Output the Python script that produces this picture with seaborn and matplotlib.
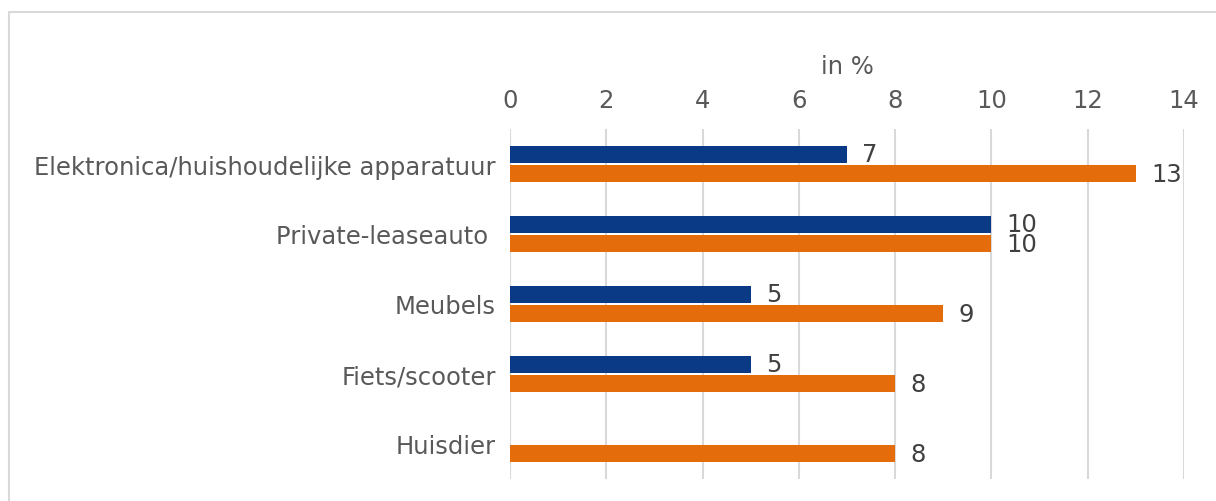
import numpy as np
import pandas as pd
import matplotlib
matplotlib.use("Agg")
import matplotlib.pyplot as plt
import seaborn as sns
from matplotlib.lines import Line2D

categories = ["Elektronica/huishoudelijke apparatuur", "Private-leaseauto ", "Meubels",
              "Fiets/scooter", "Huisdier"]
series_names = ["Reeks 1", "Reeks 2"]
values_1 = [7, 10, 5, 5, np.nan]
values_2 = [13, 10, 9, 8, 8]
x_ticks = [0, 2, 4, 6, 8, 10, 12, 14]
axis_label = "in %"

df = pd.DataFrame({
    "cat": categories * 2,
    "serie": [series_names[0]] * len(categories) + [series_names[1]] * len(categories),
    "val": values_1 + values_2,
})

sns.set_theme(style="white")
plt.rcParams["font.family"] = ["DejaVu Sans"]
text_color = "#595959"
fs = 17.5

fig = plt.figure(figsize=(12.16, 5.02), dpi=100)
ax = fig.add_axes([510 / 1216, 1 - 480 / 502, 674 / 1216, 350 / 502])

sns.barplot(data=df, y="cat", x="val", hue="serie", order=categories,
            hue_order=series_names, palette=["#0A3A85", "#E46C0A"], saturation=1,
            width=0.56, gap=0.12, orient="h", ax=ax, legend=False, zorder=3,
            linewidth=0)

for cont in ax.containers:
    labels = ["" if np.isnan(v) else f"{v:.0f}" for v in cont.datavalues]
    ax.bar_label(cont, labels=labels, padding=11, fontsize=fs, color="#404040")

ax.set_xlim(0, 14)
ax.set_ylim(4.5, -0.5)
ax.set_xticks(x_ticks)
ax.xaxis.tick_top()
ax.xaxis.set_label_position("top")
ax.set_xlabel(axis_label, fontsize=fs, color=text_color, labelpad=11)
ax.set_ylabel("")
ax.tick_params(axis="x", length=0, pad=12, labelsize=fs, labelcolor=text_color)
ax.tick_params(axis="y", length=0, pad=10, labelsize=fs, labelcolor=text_color)
ax.grid(axis="x", color="#D9D9D9", linewidth=1.5, zorder=0)
ax.grid(axis="y", visible=False)
for s in ax.spines.values():
    s.set_visible(False)

fig.add_artist(Line2D([9 / 1216, 1], [1 - 13 / 502, 1 - 13 / 502], color="#D9D9D9", lw=1.5,
                      transform=fig.transFigure))
fig.add_artist(Line2D([9 / 1216, 9 / 1216], [0, 1 - 13 / 502], color="#D9D9D9", lw=1.5,
                      transform=fig.transFigure))

fig.savefig("out.png", dpi=100)
